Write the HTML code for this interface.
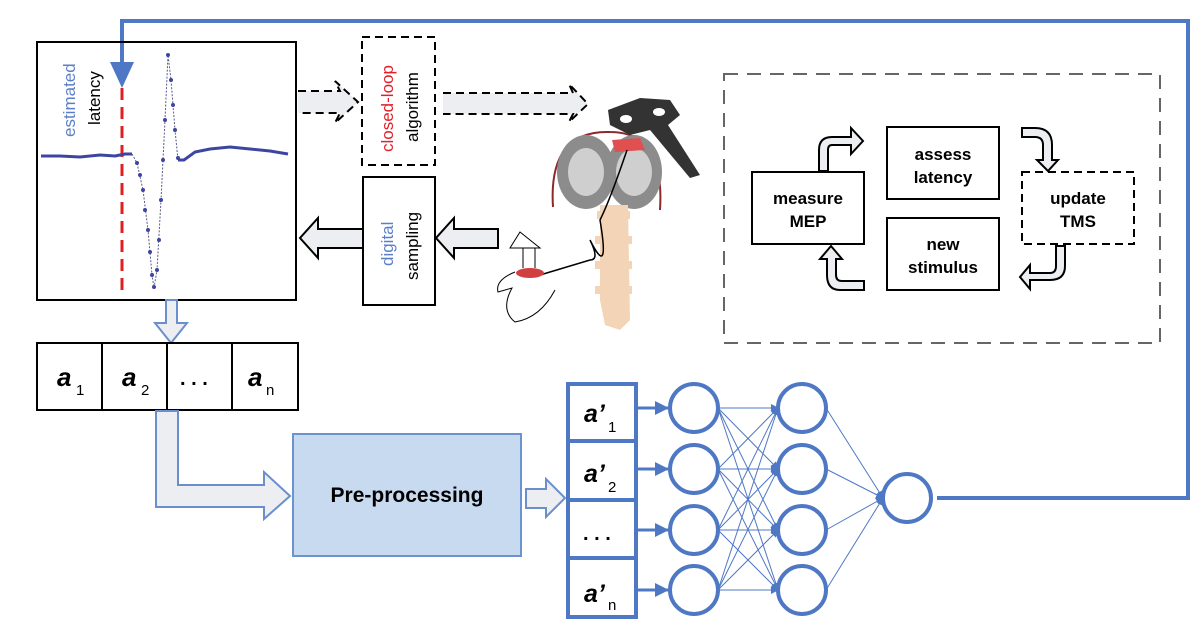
<!DOCTYPE html>
<html><head><meta charset="utf-8"><style>
body{margin:0;background:#fff}
svg{display:block}
text{font-family:"Liberation Sans",sans-serif}
</style></head><body>
<svg width="1200" height="639" viewBox="0 0 1200 639" xmlns="http://www.w3.org/2000/svg">
<defs>
<marker id="ah" markerWidth="8" markerHeight="8" refX="7" refY="4" orient="auto" markerUnits="userSpaceOnUse"><path d="M0,0 L8,4 L0,8 z" fill="#4f78c4"/></marker>
<marker id="ah2" markerWidth="14" markerHeight="14" refX="13" refY="7" orient="auto" markerUnits="userSpaceOnUse"><path d="M0,0 L14,7 L0,14 z" fill="#4f78c4"/></marker>
</defs>

<!-- feedback line -->
<polyline points="937,498 1188,498 1188,21 122,21 122,66" fill="none" stroke="#4f78c4" stroke-width="4"/>
<path d="M110,62 L134,62 L122,88 z" fill="#4f78c4"/>

<!-- plot box -->
<rect x="37" y="42" width="259" height="258" fill="none" stroke="#000" stroke-width="2"/>
<line x1="122" y1="88" x2="122" y2="293" stroke="#e02020" stroke-width="3" stroke-dasharray="12,7"/>
<path d="M132,154 L137,163 L143,190 L148,230 L152,275 L154,288 L157,270 L161,200 L165,120 L168,55 L171,80 L175,130 L178,160" fill="none" stroke="#5a5a8a" stroke-width="1" stroke-dasharray="2,1.5"/>
<g fill="#3c46a0">
<circle cx="137" cy="163" r="2"/><circle cx="140" cy="175" r="2"/><circle cx="143" cy="190" r="2"/><circle cx="145" cy="210" r="2"/><circle cx="148" cy="230" r="2"/><circle cx="150" cy="252" r="2"/><circle cx="152" cy="275" r="2"/><circle cx="154" cy="287" r="2"/><circle cx="157" cy="270" r="2"/><circle cx="159" cy="240" r="2"/><circle cx="161" cy="200" r="2"/><circle cx="163" cy="160" r="2"/><circle cx="165" cy="120" r="2"/><circle cx="168" cy="55" r="2"/><circle cx="171" cy="80" r="2"/><circle cx="173" cy="105" r="2"/><circle cx="175" cy="130" r="2"/><circle cx="178" cy="158" r="2"/>
</g>
<path d="M41,156 L60,156 L80,157 L100,155 L115,156 L125,154 L132,154 M178,160 L184,160 L195,152 L210,149 L230,147 L250,149 L270,151 L288,154" fill="none" stroke="#3c46a0" stroke-width="3"/>
<text transform="translate(75,137) rotate(-90)" font-size="17" fill="#5b7fc6">estimated</text>
<text transform="translate(100,125) rotate(-90)" font-size="17" fill="#000">latency</text>

<!-- dashed arrows -->
<path d="M298,91 L340,91 L335,81 L358,102 L335,123 L340,113 L298,113" fill="#eceef2" stroke="#000" stroke-width="2" stroke-dasharray="8,5"/>
<rect x="362" y="37" width="73" height="128" fill="none" stroke="#000" stroke-width="2" stroke-dasharray="8,5"/>
<text transform="translate(393,152) rotate(-90)" font-size="17" fill="#e0202a">closed-loop</text>
<text transform="translate(418,142) rotate(-90)" font-size="17" fill="#000">algorithm</text>
<path d="M443,93 L573,93 L569,84 L588,104 L569,122 L573,114 L443,114" fill="#eceef2" stroke="#000" stroke-width="2" stroke-dasharray="8,5"/>

<!-- digital sampling -->
<rect x="363" y="177" width="72" height="128" fill="#fff" stroke="#000" stroke-width="2"/>
<text transform="translate(393,266) rotate(-90)" font-size="17" fill="#5b7fc6">digital</text>
<text transform="translate(418,280) rotate(-90)" font-size="17" fill="#000">sampling</text>
<path d="M363,229 L318,229 L318,218 L300,238 L318,258 L318,248 L363,248 z" fill="#eceef2" stroke="#000" stroke-width="2"/>
<path d="M498,229 L454,229 L454,218 L436,238 L454,258 L454,248 L498,248 z" fill="#eceef2" stroke="#000" stroke-width="2"/>

<!-- brain illustration -->
<path d="M553,207 Q548,130 610,132 Q665,132 660,210" fill="none" stroke="#8a2a2a" stroke-width="2"/>
<ellipse cx="586" cy="172" rx="29" ry="37" fill="#8c8c8c"/>
<ellipse cx="634" cy="172" rx="28" ry="37" fill="#8c8c8c"/>
<ellipse cx="586" cy="172" rx="18" ry="24" fill="#cfcfcf"/>
<ellipse cx="634" cy="172" rx="18" ry="24" fill="#cfcfcf"/>
<path d="M612,140 L640,138 L645,150 L615,152 z" fill="#e05050"/>
<path d="M600,205 L628,205 L630,320 L620,330 L605,325 L600,300 z" fill="#f3d4b6"/>
<path d="M597,215 L630,215 M595,240 L632,240 M595,265 L632,265 M595,290 L632,290" stroke="#f3d4b6" stroke-width="8"/>
<path d="M608,110 L640,98 L670,100 L680,115 L668,125 L700,175 L690,178 L650,130 L630,135 L610,125 z" fill="#333"/>
<ellipse cx="626" cy="119" rx="6" ry="4" fill="#fff"/>
<ellipse cx="659" cy="112" rx="6" ry="4" fill="#fff"/>
<path d="M627,150 Q610,200 600,220 Q610,280 590,240 Q600,260 590,260 L540,275" fill="none" stroke="#000" stroke-width="1.5"/>
<path d="M520,232 L540,248 L510,248 z" fill="#fff" stroke="#000"/>
<line x1="523" y1="248" x2="523" y2="268" stroke="#000"/><line x1="535" y1="248" x2="535" y2="268" stroke="#000"/>
<ellipse cx="530" cy="273" rx="14" ry="5" fill="#d04040"/>
<path d="M515,272 Q495,280 498,292 Q505,290 512,288 Q500,310 515,322 Q540,318 555,290" fill="none" stroke="#000" stroke-width="1"/>

<!-- down arrow -->
<path d="M166,300 L177,300 L177,323 L187,323 L171,343 L155,323 L166,323 z" fill="#eceef2" stroke="#6a8fcc" stroke-width="2"/>

<!-- a row -->
<rect x="37" y="343" width="261" height="67" fill="#fff" stroke="#000" stroke-width="2"/>
<line x1="102" y1="343" x2="102" y2="410" stroke="#000" stroke-width="2"/>
<line x1="167" y1="343" x2="167" y2="410" stroke="#000" stroke-width="2"/>
<line x1="232" y1="343" x2="232" y2="410" stroke="#000" stroke-width="2"/>
<g font-size="26" font-weight="bold" font-style="italic">
<text x="57" y="386">a</text><text x="122" y="386">a</text><text x="248" y="386">a</text></g>
<g font-size="15"><text x="76" y="395">1</text><text x="141" y="395">2</text><text x="266" y="395">n</text></g>
<text x="180" y="385" font-size="20" font-weight="bold">. . .</text>

<!-- L arrow -->
<path d="M156,411 L178,411 L178,485 L264,485 L264,472 L290,496 L264,519 L264,507 L156,507 z" fill="#eceef2" stroke="#6a8fcc" stroke-width="2"/>

<!-- Pre-processing -->
<rect x="293" y="434" width="228" height="122" fill="#c8daef" stroke="#6a93cf" stroke-width="2"/>
<text x="407" y="502" font-size="21" font-weight="bold" text-anchor="middle">Pre-processing</text>
<path d="M526,489 L546,489 L546,479 L565,498 L546,517 L546,508 L526,508 z" fill="#eceef2" stroke="#6a8fcc" stroke-width="2"/>

<!-- a' column -->
<rect x="568" y="384" width="68" height="233" fill="#fff" stroke="#4f78c4" stroke-width="4"/>
<line x1="568" y1="441" x2="636" y2="441" stroke="#4f78c4" stroke-width="4"/>
<line x1="568" y1="500" x2="636" y2="500" stroke="#4f78c4" stroke-width="4"/>
<line x1="568" y1="558" x2="636" y2="558" stroke="#4f78c4" stroke-width="4"/>
<g font-size="25" font-weight="bold" font-style="italic">
<text x="584" y="422">a’</text><text x="584" y="482">a’</text><text x="584" y="602">a’</text></g>
<g font-size="15"><text x="608" y="432">1</text><text x="608" y="492">2</text><text x="608" y="610">n</text></g>
<text x="583" y="540" font-size="20" font-weight="bold">. . .</text>

<!-- network -->
<g stroke="#4f78c4" stroke-width="3" marker-end="url(#ah2)">
<line x1="637" y1="408" x2="668" y2="408"/><line x1="637" y1="469" x2="668" y2="469"/>
<line x1="637" y1="530" x2="668" y2="530"/><line x1="637" y1="590" x2="668" y2="590"/>
</g>
<g stroke="#4f78c4" stroke-width="1" marker-end="url(#ah)">
<line x1="718" y1="408" x2="778" y2="408"/><line x1="718" y1="408" x2="778" y2="469"/><line x1="718" y1="408" x2="778" y2="530"/><line x1="718" y1="408" x2="778" y2="590"/>
<line x1="718" y1="469" x2="778" y2="408"/><line x1="718" y1="469" x2="778" y2="469"/><line x1="718" y1="469" x2="778" y2="530"/><line x1="718" y1="469" x2="778" y2="590"/>
<line x1="718" y1="530" x2="778" y2="408"/><line x1="718" y1="530" x2="778" y2="469"/><line x1="718" y1="530" x2="778" y2="530"/><line x1="718" y1="530" x2="778" y2="590"/>
<line x1="718" y1="590" x2="778" y2="408"/><line x1="718" y1="590" x2="778" y2="469"/><line x1="718" y1="590" x2="778" y2="530"/><line x1="718" y1="590" x2="778" y2="590"/>
<line x1="826" y1="408" x2="883" y2="498"/><line x1="826" y1="469" x2="883" y2="498"/><line x1="826" y1="530" x2="883" y2="498"/><line x1="826" y1="590" x2="883" y2="498"/>
</g>
<g fill="#fff" stroke="#4f78c4" stroke-width="4">
<circle cx="694" cy="408" r="24"/><circle cx="694" cy="469" r="24"/><circle cx="694" cy="530" r="24"/><circle cx="694" cy="590" r="24"/>
<circle cx="802" cy="408" r="24"/><circle cx="802" cy="469" r="24"/><circle cx="802" cy="530" r="24"/><circle cx="802" cy="590" r="24"/>
<circle cx="907" cy="498" r="24"/>
</g>

<!-- right dashed box -->
<rect x="724" y="74" width="436" height="269" fill="none" stroke="#666" stroke-width="2" stroke-dasharray="14,9"/>
<rect x="752" y="172" width="112" height="72" fill="#fff" stroke="#000" stroke-width="2"/>
<rect x="887" y="127" width="112" height="72" fill="#fff" stroke="#000" stroke-width="2"/>
<rect x="887" y="218" width="112" height="72" fill="#fff" stroke="#000" stroke-width="2"/>
<rect x="1022" y="172" width="112" height="72" fill="#fff" stroke="#000" stroke-width="2" stroke-dasharray="8,5"/>
<g font-size="17" font-weight="bold" text-anchor="middle">
<text x="808" y="204">measure</text><text x="808" y="227">MEP</text>
<text x="943" y="160">assess</text><text x="943" y="183">latency</text>
<text x="943" y="250">new</text><text x="943" y="273">stimulus</text>
<text x="1078" y="204">update</text><text x="1078" y="227">TMS</text>
</g>
<g fill="#eceef2" stroke="#000" stroke-width="2">
<path d="M819,171 L819,150 Q819,137 832,137 L851,137 L851,128 L863,141 L851,154 L851,145 L832,145 Q828,145 828,150 L828,171 z"/>
<path d="M1022,128 L1035,128 Q1052,128 1052,145 L1052,160 L1058,160 L1048,171 L1037,160 L1043,160 L1043,145 Q1043,137 1035,137 L1022,137 z"/>
<path d="M1065,246 L1065,266 Q1065,280 1050,280 L1030,280 L1030,289 L1020,277 L1030,265 L1030,273 L1050,273 Q1056,273 1056,266 L1056,246 z"/>
<path d="M864,290 L840,290 Q827,290 827,275 L827,259 L820,259 L831,246 L842,259 L836,259 L836,275 Q836,281 842,281 L864,281 z"/>
</g>
</svg>
</body></html>
